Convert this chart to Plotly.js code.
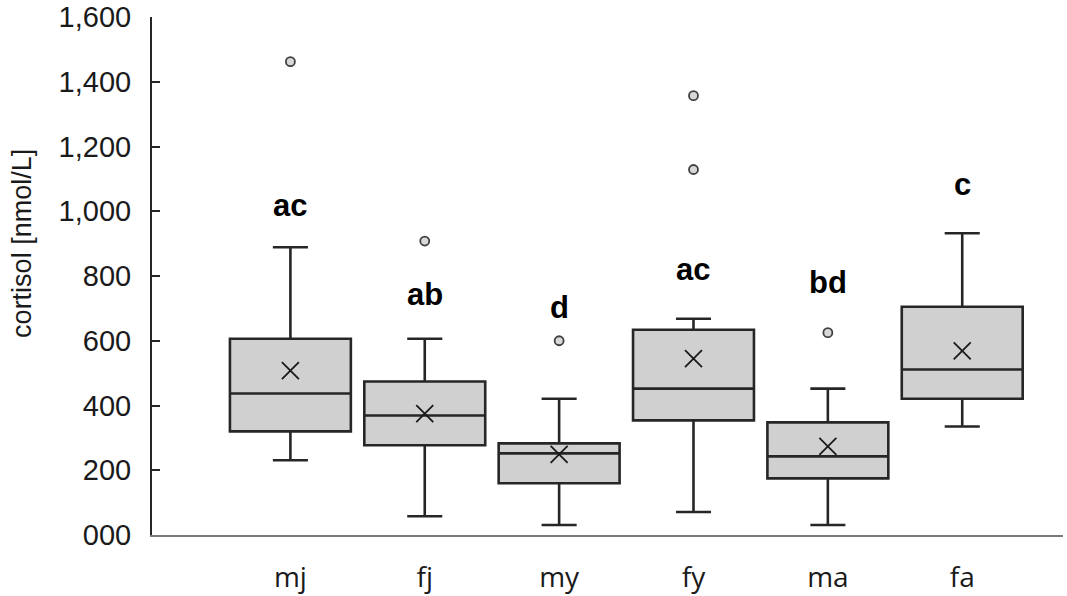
<!DOCTYPE html>
<html>
<head>
<meta charset="utf-8">
<script src="https://cdn.plot.ly/plotly-3.0.1.min.js"></script>
<style>html,body{margin:0;padding:0;background:#fff;}#chart{width:1067px;height:596px;}</style>
</head>
<body>
<div id="chart"></div>
<script>
var groups = ['mj', 'fj', 'my', 'fy', 'ma', 'fa'];
var lowerWhisker = [231, 58, 31, 71, 31, 335];
var q1Values = [320, 277, 160, 354, 175, 421];
var medianValues = [437, 369, 252, 452, 243, 511];
var q3Values = [606, 474, 283, 634, 348, 705];
var upperWhisker = [889, 606, 421, 668, 452, 932];
var meanValues = [508, 375, 249, 545, 274, 569];
var outlierGroups = ['mj', 'fj', 'my', 'fy', 'fy', 'ma'];
var outlierValues = [1462, 908, 600, 1357, 1129, 625];
var letterLabels = ['ac', 'ab', 'd', 'ac', 'bd', 'c'];
var letterValues = [1017, 743, 703, 820, 780, 1084];
var tickValues = [0, 200, 400, 600, 800, 1000, 1200, 1400, 1600];
var tickLabels = ['000', '200', '400', '600', '800', '1,000', '1,200', '1,400', '1,600'];

var traces = [
  {
    type: 'box',
    x: groups,
    q1: q1Values,
    median: medianValues,
    q3: q3Values,
    lowerfence: lowerWhisker,
    upperfence: upperWhisker,
    width: 0.9,
    whiskerwidth: 0.29,
    fillcolor: '#d0d0d0',
    line: {color: '#262626', width: 2.6},
    hoverinfo: 'skip',
    showlegend: false
  },
  {
    type: 'scatter',
    mode: 'markers',
    x: groups,
    y: meanValues,
    marker: {symbol: 'x-thin-open', size: 17, color: '#1a1a1a', line: {color: '#1a1a1a', width: 1.8}},
    showlegend: false
  },
  {
    type: 'scatter',
    mode: 'markers',
    x: outlierGroups,
    y: outlierValues,
    marker: {symbol: 'circle', size: 9, color: '#d8d8d8', line: {color: '#404040', width: 1.8}},
    showlegend: false
  }
];

var annotations = groups.map(function (g, i) {
  return {
    x: g, y: letterValues[i], xref: 'x', yref: 'y',
    text: '<b>' + letterLabels[i] + '</b>', showarrow: false,
    font: {family: 'Liberation Sans, Arial, sans-serif', size: 31, color: '#000'},
    xanchor: 'center', yanchor: 'middle'
  };
});
annotations.push({
  xref: 'paper', yref: 'paper', x: -0.1427, y: 0.562,
  text: 'cortisol [nmol/L]', showarrow: false, textangle: -90,
  font: {family: 'Liberation Sans, Arial, sans-serif', size: 27, color: '#1a1a1a'},
  xanchor: 'center', yanchor: 'middle'
});

var layout = {
  width: 1067, height: 596,
  margin: {l: 152, r: 4, t: 17, b: 61},
  paper_bgcolor: '#fff', plot_bgcolor: '#fff',
  showlegend: false,
  xaxis: {
    type: 'category',
    categoryorder: 'array', categoryarray: groups,
    range: [-1.03, 5.75],
    showgrid: false, zeroline: false,
    showline: true, linecolor: '#7a7a7a', linewidth: 2,
    ticks: '',
    ticklabelstandoff: 16,
    tickfont: {family: 'Open Sans, sans-serif', size: 28, color: '#1a1a1a'}
  },
  yaxis: {
    range: [0, 1600],
    tickmode: 'array', tickvals: tickValues, ticktext: tickLabels,
    ticklabeloverflow: 'allow',
    showgrid: false, zeroline: false,
    showline: true, linecolor: '#262626', linewidth: 2,
    ticks: 'inside', ticklen: 8, tickwidth: 2, tickcolor: '#262626',
    ticklabelstandoff: 13,
    tickfont: {family: 'Liberation Sans, Arial, sans-serif', size: 29, color: '#1a1a1a'}
  },
  annotations: annotations
};

Plotly.newPlot('chart', traces, layout, {displayModeBar: false, staticPlot: true});
</script>
</body>
</html>
